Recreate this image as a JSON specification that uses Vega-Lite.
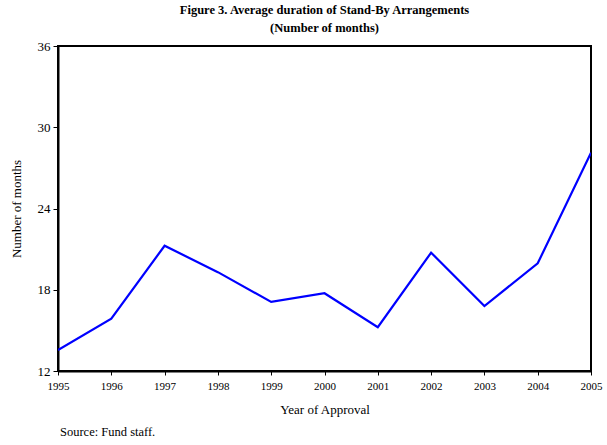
{
  "$schema": "https://vega.github.io/schema/vega-lite/v6.json",
  "width": 533,
  "height": 325,
  "autosize": {"type": "none"},
  "padding": {"left": 58, "top": 46, "right": 16, "bottom": 74},
  "background": "white",
  "config": {
    "font": "Liberation Serif",
    "view": {"stroke": "black", "strokeWidth": 2},
    "axis": {"domainColor": "black", "domainWidth": 2, "tickColor": "black", "labelColor": "black", "titleColor": "black", "grid": false, "labelFont": "Liberation Serif", "titleFont": "Liberation Serif", "titleFontWeight": "normal"}
  },
  "title": {
    "text": ["Figure 3. Average duration of Stand-By Arrangements", "(Number of months)"],
    "font": "Liberation Serif",
    "fontSize": 12.5,
    "fontWeight": "bold",
    "color": "black",
    "lineHeight": 18,
    "anchor": "middle",
    "offset": 6
  },
  "data": {
    "values": [
      {"year": 1995, "months": 13.55},
      {"year": 1996, "months": 15.86},
      {"year": 1997, "months": 21.25},
      {"year": 1998, "months": 19.3},
      {"year": 1999, "months": 17.1},
      {"year": 2000, "months": 17.74},
      {"year": 2001, "months": 15.23},
      {"year": 2002, "months": 20.74},
      {"year": 2003, "months": 16.8},
      {"year": 2004, "months": 19.95},
      {"year": 2005, "months": 28.12}
    ]
  },
  "layer": [
    {
      "mark": {"type": "line", "color": "#0000FF", "strokeWidth": 2.2, "clip": true},
      "encoding": {
        "x": {"field": "year", "type": "quantitative", "scale": {"domain": [1995, 2005], "nice": false, "zero": false},
          "axis": {"title": "Year of Approval", "values": [1995,1996,1997,1998,1999,2000,2001,2002,2003,2004,2005], "format": "d", "labelFontSize": 11, "titleFontSize": 13, "tickSize": 4, "labelPadding": 5, "titlePadding": 12, "labelFlush": false, "labelOverlap": false}},
        "y": {"field": "months", "type": "quantitative", "scale": {"domain": [12, 36], "nice": false, "zero": false},
          "axis": {"title": "Number of months", "values": [12, 18, 24, 30, 36], "labelFontSize": 13, "titleFontSize": 13, "tickSize": 5, "labelPadding": 3, "titlePadding": 14}}
      }
    },
    {
      "data": {"values": [{"year": 1995, "months": 12, "note": "Source: Fund staff."}]},
      "mark": {"type": "text", "align": "left", "baseline": "middle", "dy": 61, "dx": 2, "fontSize": 12.5, "font": "Liberation Serif", "color": "black"},
      "encoding": {
        "x": {"field": "year", "type": "quantitative"},
        "y": {"field": "months", "type": "quantitative"},
        "text": {"field": "note"}
      }
    }
  ]
}
